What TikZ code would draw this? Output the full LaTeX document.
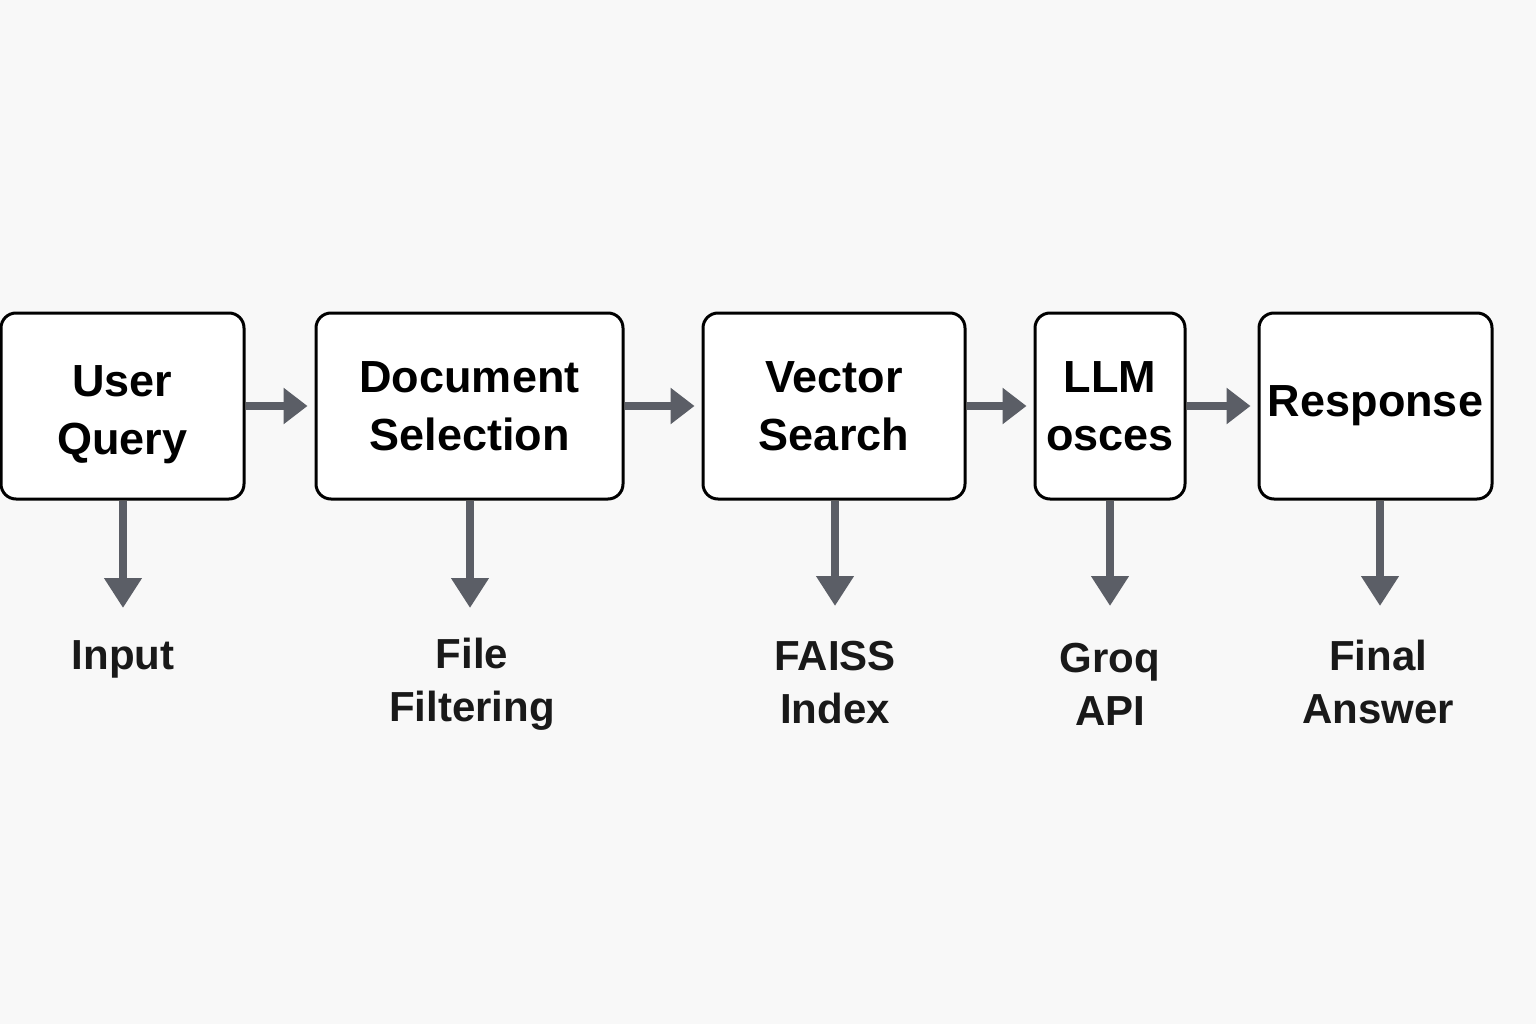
\documentclass[tikz,border=0pt]{standalone}
\usepackage{fontspec}
\setmainfont{Liberation Sans}
\usetikzlibrary{arrows.meta}
\definecolor{bgc}{HTML}{F8F8F8}
\definecolor{arr}{HTML}{5B5E66}
\begin{document}
\begin{tikzpicture}[x=1pt,y=-1pt,
  box/.style={draw=black, line width=3pt, fill=white, rounded corners=15pt, inner sep=0pt,
    align=center, font=\fontsize{45}{58}\selectfont\bfseries},
  lbl/.style={align=center, font=\fontsize{42}{53}\selectfont\bfseries, text=black!90},
  harr/.style={draw=arr, line width=8pt, -{Triangle[length=24pt,width=35pt]}, shorten >=7pt},
  varr/.style={draw=arr, line width=8pt, -{Triangle[length=30pt,width=36pt]}}]
\fill[bgc] (0,0) rectangle (1536,1024);
\useasboundingbox (0,0) rectangle (1536,1024);

\node[box, minimum width=243pt, minimum height=186pt, text height=106pt] (uq) at (122.5,406) {User\\Query};
\node[box, minimum width=307pt, minimum height=186pt] (ds) at (469.5,406) {Document\\Selection};
\node[box, minimum width=262pt, minimum height=186pt] (vs) at (834,406) {Vector\\Search};
\node[box, minimum width=150pt, minimum height=186pt] (llm) at (1110,406) {LLM\\osces};
\node[box, minimum width=233pt, minimum height=186pt] (rs) at (1375.5,406) {Response};

\draw[harr] (uq.east) -- (ds.west);
\draw[harr] (ds.east) -- (vs.west);
\draw[harr] (vs.east) -- (llm.west);
\draw[harr] (llm.east) -- (rs.west);

\coordinate (e1) at (123,608);
\coordinate (e2) at (470,608);
\coordinate (e3) at (835,606);
\coordinate (e4) at (1110,606);
\coordinate (e5) at (1380,606);

\draw[varr] (uq.south -| e1) -- (e1);
\draw[varr] (ds.south -| e2) -- (e2);
\draw[varr] (vs.south -| e3) -- (e3);
\draw[varr] (llm.south -| e4) -- (e4);
\draw[varr] (rs.south -| e5) -- (e5);

\node[lbl] (l1) at (123,659) {Input};
\node[lbl] (l2) at (472,684) {File\\Filtering};
\node[lbl] (l3) at (835,683) {FAISS\\Index};
\node[lbl] (l4) at (1110,684) {Groq\\API};
\node[lbl] (l5) at (1378,682) {Final\\Answer};
\end{tikzpicture}
\end{document}
